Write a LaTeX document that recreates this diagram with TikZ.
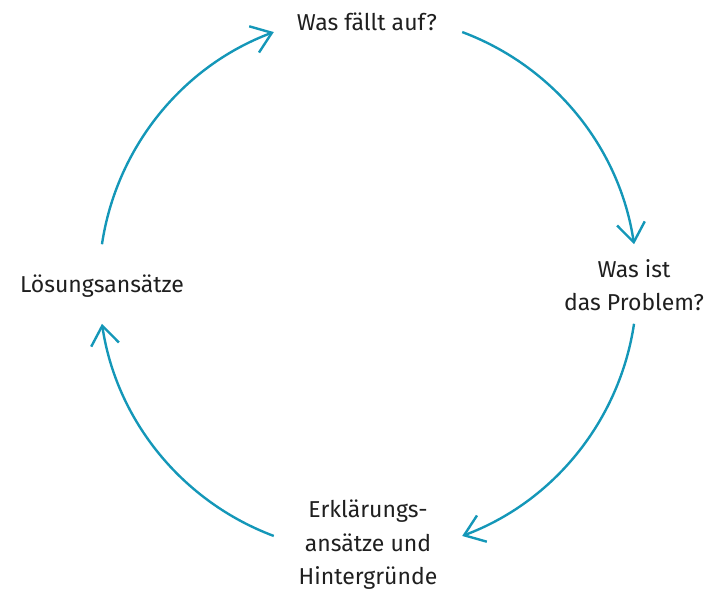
\documentclass[tikz,border=0pt]{standalone}
\usepackage{fontspec}
\setmainfont{Fira Sans}
\usetikzlibrary{arrows.meta}
\definecolor{kreisblau}{RGB}{20,151,184}

\begin{document}
\begin{tikzpicture}[x=1pt, y=1pt]
\tikzset{etappe/.style={align=center, font=\fontsize{23}{33.5}\selectfont, text=black!88},
zyklus/.style={draw=kreisblau, line width=2.4pt, -{Straight Barb[length=19pt, width=28pt, line width=2.4pt]}}}
\useasboundingbox (0, 0) rectangle (723, -600);
\coordinate (M) at (368, -284);
\node[etappe] (E1) at (367, -22) {Was fällt auf?};
\node[etappe] (E2) at (634, -285) {Was ist\\das Problem?};
\node[etappe] (E3) at (368, -545) {Erklärungs-\\ansätze und\\Hintergründe};
\node[etappe] (E4) at (102, -286) {Lösungsansätze};
\draw[zyklus] ([shift={(69.5:269)}]M) arc[start angle=69.5, end angle=8.5, radius=269];
\draw[zyklus] ([shift={(-8.5:269)}]M) arc[start angle=-8.5, end angle=-69.5, radius=269];
\draw[zyklus] ([shift={(-110.5:269)}]M) arc[start angle=-110.5, end angle=-171.5, radius=269];
\draw[zyklus] ([shift={(171.5:269)}]M) arc[start angle=171.5, end angle=110.5, radius=269];
\end{tikzpicture}
\end{document}
